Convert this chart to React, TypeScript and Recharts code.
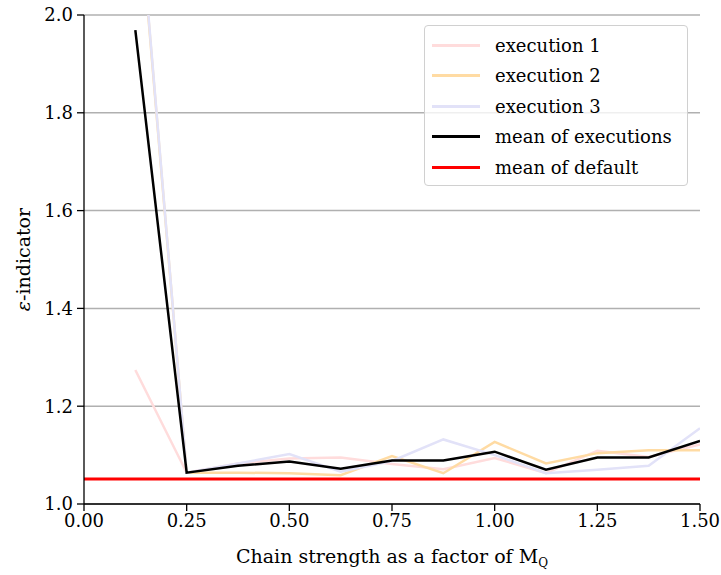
import React from "react";
import { LineChart, Line, XAxis, YAxis, CartesianGrid } from "recharts";

const chainStrength = [0.125, 0.25, 0.375, 0.5, 0.625, 0.75, 0.875, 1.0, 1.125, 1.25, 1.375, 1.5];
const execution1 = [1.274, 1.064, 1.083, 1.093, 1.095, 1.082, 1.071, 1.094, 1.063, 1.109, 1.096, 1.122];
const execution2 = [2.313, 1.064, 1.064, 1.063, 1.059, 1.098, 1.063, 1.127, 1.083, 1.104, 1.110, 1.110];
const execution3 = [2.32, 1.064, 1.083, 1.102, 1.066, 1.088, 1.132, 1.100, 1.063, 1.070, 1.078, 1.155];
const meanOfExecutions = [1.969, 1.064, 1.078, 1.087, 1.072, 1.089, 1.089, 1.107, 1.070, 1.095, 1.095, 1.129];
const defaultRange = [0, 1.5];
const meanOfDefault = 1.051;
const xTicks = [0, 0.25, 0.5, 0.75, 1.0, 1.25, 1.5];
const yTicks = [1.0, 1.2, 1.4, 1.6, 1.8, 2.0];

const seriesNames = ["execution 1", "execution 2", "execution 3", "mean of executions", "mean of default"];
const seriesColors = ["#ffdcdc", "#ffdba3", "#e2e2f8", "#000000", "#ff0000"];

const data = chainStrength.map((x, i) => ({
  x,
  e1: execution1[i],
  e2: execution2[i],
  e3: execution3[i],
  mean: meanOfExecutions[i],
}));
const defaultData = defaultRange.map((x) => ({ x, def: meanOfDefault }));

const FONT = "'DejaVu Serif', serif";
const FS = 18;

const LegendBox = () => (
  <div
    style={{
      position: "absolute",
      left: 424,
      top: 25,
      width: 264,
      height: 161,
      boxSizing: "border-box",
      background: "rgba(255,255,255,0.8)",
      border: "1px solid #d0d0d0",
      borderRadius: 4,
      padding: "4px 0 0 7px",
      fontFamily: FONT,
      fontSize: FS,
      color: "#000",
    }}
  >
    {seriesNames.map((n, i) => (
      <div key={n} style={{ display: "flex", alignItems: "center", height: 30.5 }}>
        <div style={{ width: 48, height: 3, background: seriesColors[i], marginRight: 15 }} />
        <span style={{ whiteSpace: "nowrap" }}>{n}</span>
      </div>
    ))}
  </div>
);

const XLabel = (props: any) => {
  const vb = props.viewBox || {};
  const cx = vb.x + vb.width / 2;
  return (
    <text x={cx} y={vb.y + 59} textAnchor="middle" fontFamily={FONT} fontSize={FS + 1} fill="#000">
      Chain strength as a factor of M
      <tspan fontSize={12} dy={4}>Q</tspan>
    </text>
  );
};

const YLabel = (props: any) => {
  const vb = props.viewBox || {};
  const cy = vb.y + vb.height / 2;
  const x = 23;
  return (
    <text
      x={x}
      y={cy}
      textAnchor="middle"
      fontFamily={FONT}
      fontSize={FS + 1}
      fill="#000"
      transform={`rotate(-90, ${x}, ${cy})`}
      dominantBaseline="central"
    >
      <tspan fontStyle="italic">ε</tspan>-indicator
    </text>
  );
};

const tickStyle = { fontFamily: FONT, fontSize: FS, fill: "#000" };

export default function App() {
  return (
    <div style={{ position: "absolute", left: 0, top: 0, width: 721, height: 575 }}>
      <LineChart
        width={721}
        height={575}
        data={data}
        margin={{ top: 15, right: 21, bottom: 0, left: 24 }}
      >
        <CartesianGrid horizontal vertical={false} stroke="#b0b0b0" strokeWidth={1.5} />
        <XAxis
          dataKey="x"
          type="number"
          domain={[0, 1.5]}
          ticks={xTicks}
          tickFormatter={(v: number) => v.toFixed(2)}
          stroke="#000"
          strokeWidth={1.3}
          tickSize={7}
          tickMargin={3}
          tick={tickStyle}
          height={71}
          allowDataOverflow
          label={<XLabel />}
        />
        <XAxis xAxisId="top" orientation="top" dataKey="x" type="number" domain={[0, 1.5]} tick={false} tickLine={false} stroke="#000" strokeWidth={1.3} height={0} />
        <YAxis
          type="number"
          domain={[1.0, 2.0]}
          ticks={yTicks}
          tickFormatter={(v: number) => v.toFixed(1)}
          stroke="#000"
          strokeWidth={1.3}
          tickSize={7}
          tickMargin={4}
          tick={tickStyle}
          width={60}
          allowDataOverflow
          label={<YLabel />}
        />
        <YAxis yAxisId="right" orientation="right" domain={[1, 2]} tick={false} tickLine={false} stroke="#000" strokeWidth={1.3} width={0} />
        <Line dataKey="e1" stroke={seriesColors[0]} strokeWidth={2.5} dot={false} isAnimationActive={false} />
        <Line dataKey="e2" stroke={seriesColors[1]} strokeWidth={2.5} dot={false} isAnimationActive={false} />
        <Line dataKey="e3" stroke={seriesColors[2]} strokeWidth={2.5} dot={false} isAnimationActive={false} />
        <Line dataKey="mean" stroke={seriesColors[3]} strokeWidth={2.5} dot={false} isAnimationActive={false} />
        <Line data={defaultData} dataKey="def" stroke={seriesColors[4]} strokeWidth={3} dot={false} isAnimationActive={false} />
      </LineChart>
      <LegendBox />
    </div>
  );
}
